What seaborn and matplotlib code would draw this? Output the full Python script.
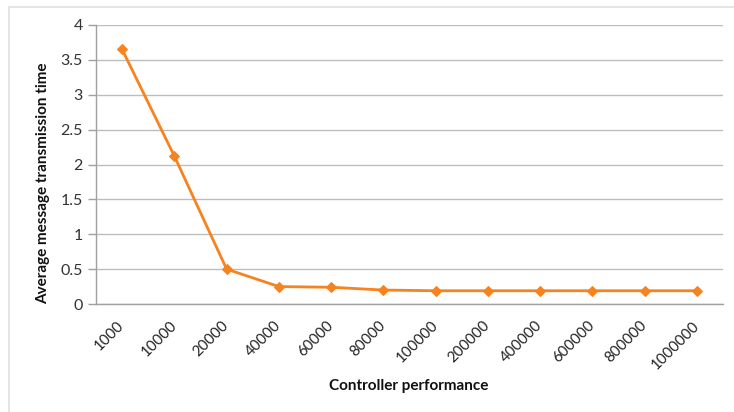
import matplotlib
matplotlib.use("Agg")
import matplotlib.pyplot as plt
import seaborn as sns
import pandas as pd
from matplotlib.lines import Line2D

# controller performance vs average message transmission time
performance = ["1000", "10000", "20000", "40000", "60000", "80000",
               "100000", "200000", "400000", "600000", "800000", "1000000"]
avg_time = [3.65, 2.12, 0.50, 0.25, 0.24, 0.20,
            0.19, 0.19, 0.19, 0.19, 0.19, 0.19]

df = pd.DataFrame({"performance": performance, "time": avg_time})
df["pos"] = range(len(df))

sns.set_style("white")
plt.rcParams["font.family"] = ["Lato", "DejaVu Sans"]

fig = plt.figure(figsize=(7.34, 4.12), dpi=100)
ax = fig.add_axes([96 / 734, 1 - 304 / 412, (723 - 96) / 734, (304 - 25) / 412])

sns.lineplot(data=df, x="pos", y="time", color="#F7821E", lw=2,
             marker="D", markersize=5.5, markeredgecolor="#F7821E", ax=ax)

ax.set_xlim(-0.5, len(df) - 0.5)
ax.set_ylim(0, 4)
ax.set_yticks([0, 0.5, 1, 1.5, 2, 2.5, 3, 3.5, 4])
ax.set_yticklabels(["0", "0.5", "1", "1.5", "2", "2.5", "3", "3.5", "4"])
ax.yaxis.grid(True, color="#BDBDBD", lw=1)
ax.set_axisbelow(True)

# Excel style: ticks between categories, labels at centers
ax.set_xticks([i - 0.5 for i in range(len(df) + 1)])
ax.set_xticklabels([])
ax.set_xticks(df["pos"], minor=True)
ax.set_xticklabels(performance, minor=True, rotation=45, ha="right",
                   va="center", rotation_mode="anchor")
ax.tick_params(axis="x", which="minor", length=0, pad=14, labelsize=10.8,
               colors="#222222")
ax.tick_params(axis="x", which="major", length=6, direction="out",
               color="#A0A0A0", width=1)
ax.tick_params(axis="y", length=6, direction="out", color="#A0A0A0",
               width=1, labelsize=11.5, colors="#333333", left=True)

for side in ["top", "right"]:
    ax.spines[side].set_visible(False)
for side in ["left", "bottom"]:
    ax.spines[side].set_color("#A0A0A0")
    ax.spines[side].set_linewidth(1)

ax.set_xlabel("")
ax.set_ylabel("")
fig.text(409 / 734, 1 - 386 / 412, "Controller performance",
         ha="center", va="center", fontsize=11, fontweight="bold", color="#111111")
fig.text(43 / 734, 1 - 183 / 412, "Average message transmission time",
         ha="center", va="center", rotation=90, fontsize=11, fontweight="bold",
         color="#111111")

# chart frame
fig.add_artist(Line2D([9 / 734, 9 / 734], [0, 1 - 7 / 412],
                      transform=fig.transFigure, color="#E0E0E0", lw=1.2))
fig.add_artist(Line2D([9 / 734, 1], [1 - 7 / 412, 1 - 7 / 412],
                      transform=fig.transFigure, color="#E0E0E0", lw=1.2))

fig.savefig("out.png", dpi=100)
